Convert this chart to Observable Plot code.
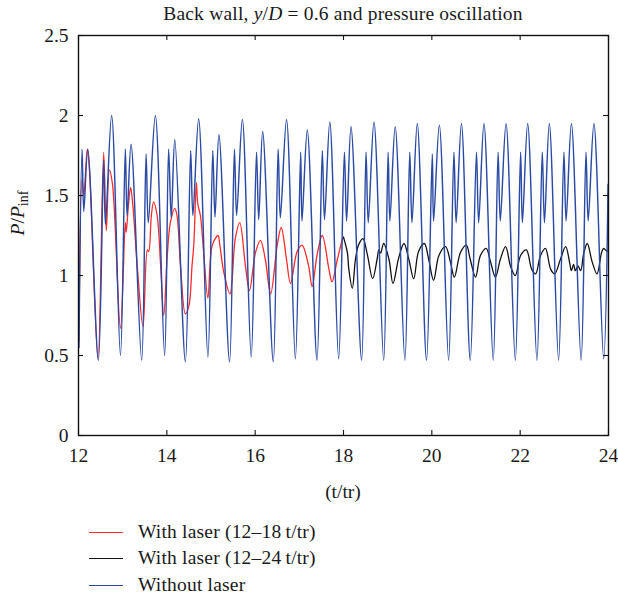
<!DOCTYPE html>
<html><head><meta charset="utf-8">
<script src="https://cdn.jsdelivr.net/npm/d3@7"></script>
<script src="https://cdn.jsdelivr.net/npm/@observablehq/plot@0.6"></script>
<style>
body{margin:0;background:#fff;font-family:"Liberation Serif","DejaVu Serif",serif;color:#1a1a1a;}
#wrap{position:relative;width:618px;height:599px;overflow:hidden;}
#chart{position:absolute;left:0;top:0;}
.lbl{position:absolute;font-size:19.5px;line-height:22px;white-space:nowrap;}
#title{left:78px;width:530px;top:3px;text-align:center;letter-spacing:0.2px;}
#xlabel{left:78px;width:530px;top:481px;text-align:center;}
#ylabel{left:21px;top:213px;transform:translate(-50%,-50%) rotate(-90deg);}
.leg{position:absolute;left:89px;font-size:19.5px;line-height:22px;white-space:nowrap;}
.leg span.sw{position:absolute;left:0;top:11px;width:34px;height:0;border-top:1.4px solid;}
.leg span.tx{position:absolute;left:49px;top:0;letter-spacing:0.2px;}
</style>
</head><body>
<div id="wrap">
<div id="chart"></div>
<div class="lbl" id="title">Back wall, <i>y</i>/<i>D</i> = 0.6 and pressure oscillation</div>
<div class="lbl" id="xlabel">(t/tr)</div>
<div class="lbl" id="ylabel"><i>P</i>/<i>P</i><sub style="font-size:14px">inf</sub></div>
<div id="legend"></div>
</div>
<script>
// ---- data ----
const xTicks = [12, 14, 16, 18, 20, 22, 24];
const yTicks = [0, 0.5, 1, 1.5, 2, 2.5];
const seriesNames = ["With laser (12\u201318\u2009t/tr)", "With laser (12\u201324\u2009t/tr)", "Without laser"];
const seriesColors = ["#ff2b2b", "#111111", "#2a4aa4"];

const blueT = [12.01,12.08,12.12,12.21,12.45,12.57,12.61,12.75,12.95,13.06,13.10,13.19,13.43,13.53,13.58,13.74,13.95,14.04,14.10,14.18,14.42,14.54,14.59,14.72,14.93,15.04,15.09,15.18,15.42,15.53,15.58,15.71,15.91,16.03,16.08,16.17,16.41,16.52,16.57,16.71,16.91,17.03,17.06,17.18,17.40,17.52,17.57,17.69,17.89,18.02,18.07,18.17,18.41,18.51,18.56,18.69,18.91,19.01,19.05,19.17,19.39,19.50,19.55,19.67,19.88,20.01,20.04,20.17,20.38,20.50,20.55,20.67,20.87,21.01,21.06,21.18,21.39,21.50,21.55,21.68,21.89,22.01,22.05,22.17,22.38,22.50,22.55,22.66,22.87,22.99,23.04,23.16,23.38,23.49,23.54,23.67,23.89,23.99];
const blueP = [0.55,1.79,1.40,1.79,0.47,1.72,1.32,2.00,0.50,1.79,1.375,1.82,0.47,1.76,1.33,2.00,0.50,1.79,1.36,1.85,0.46,1.78,1.375,1.98,0.49,1.78,1.365,1.88,0.46,1.79,1.375,1.975,0.49,1.77,1.35,1.90,0.46,1.79,1.36,1.975,0.48,1.77,1.34,1.91,0.47,1.78,1.35,1.96,0.48,1.77,1.34,1.93,0.47,1.77,1.33,1.96,0.47,1.77,1.34,1.93,0.47,1.77,1.33,1.95,0.47,1.76,1.34,1.94,0.47,1.77,1.33,1.95,0.47,1.77,1.33,1.95,0.47,1.77,1.34,1.95,0.47,1.77,1.33,1.95,0.47,1.77,1.33,1.95,0.47,1.77,1.34,1.95,0.47,1.77,1.34,1.95,0.48,1.57];

const redT = [12.01,12.08,12.12,12.20,12.25,12.44,12.57,12.63,12.70,12.77,12.95,13.06,13.08,13.13,13.18,13.23,13.33,13.46,13.56,13.59,13.65,13.70,13.78,13.86,13.93,14.01,14.08,14.18,14.23,14.31,14.42,14.50,14.57,14.61,14.67,14.70,14.76,14.84,14.93,15.03,15.16,15.20,15.29,15.43,15.55,15.65,15.78,15.87,16.01,16.12,16.23,16.35,16.50,16.59,16.71,16.80,16.95,17.06,17.21,17.29,17.40,17.52,17.67,17.74,17.86,17.97,18.00];
const redP = [0.59,1.60,1.50,1.79,1.65,0.48,1.77,1.28,1.66,1.57,0.67,1.33,1.27,1.44,1.55,1.44,1.06,0.68,1.16,1.15,1.375,1.46,1.375,1.06,0.75,1.125,1.33,1.42,1.375,1.06,0.76,0.81,1.06,1.19,1.58,1.45,1.375,1.12,0.86,1.19,1.25,1.19,1.02,0.885,1.23,1.33,1.06,0.906,1.146,1.22,1.10,0.885,1.19,1.30,1.10,0.95,1.15,1.19,1.06,0.93,1.125,1.25,1.04,0.96,1.10,1.22,1.24];

const blackT = [18.00,18.03,18.09,18.12,18.20,18.27,18.34,18.44,18.54,18.66,18.76,18.80,18.84,18.91,19.03,19.12,19.25,19.37,19.48,19.59,19.70,19.83,19.93,20.04,20.16,20.31,20.42,20.51,20.65,20.78,20.87,20.99,21.10,21.23,21.33,21.44,21.55,21.67,21.78,21.89,22.01,22.14,22.26,22.35,22.46,22.57,22.69,22.78,22.91,23.03,23.12,23.16,23.21,23.25,23.31,23.37,23.44,23.52,23.63,23.74,23.84,23.89,23.93,23.99];
const blackP = [1.24,1.21,1.14,1.04,0.92,1.10,1.19,1.23,1.13,0.98,1.10,1.16,1.14,1.20,1.10,0.95,1.11,1.20,1.10,0.98,1.15,1.20,1.10,0.97,1.125,1.18,1.085,0.99,1.145,1.19,1.10,0.99,1.125,1.17,1.085,0.99,1.10,1.18,1.06,1.00,1.125,1.16,1.04,1.01,1.125,1.17,1.04,1.01,1.10,1.18,1.08,1.03,1.07,1.03,1.06,1.03,1.14,1.20,1.085,1.01,1.14,1.17,1.16,1.15];

const toRows = (T, P) => T.map((t, i) => ({t, p: P[i]}));
const red = toRows(redT, redP), black = toRows(blackT, blackP), blue = toRows(blueT, blueP);

const plotH = 510, mTop = 35, mBottom = 75, mLeft = 78, mRight = 10, W = 618;
const innerH = plotH - mTop - mBottom, innerW = W - mLeft - mRight, tk = 5;

const chart = Plot.plot({
  width: W, height: plotH,
  marginTop: mTop, marginBottom: mBottom, marginLeft: mLeft, marginRight: mRight,
  style: {fontFamily: "Liberation Serif, DejaVu Serif, serif", fontSize: "19.5px", color: "#1a1a1a", background: "transparent"},
  x: {domain: [12, 24], ticks: xTicks, label: null},
  y: {domain: [0, 2.5], ticks: yTicks, label: null},
  marks: [
    Plot.line(red, {x: "t", y: "p", stroke: seriesColors[0], strokeWidth: 1.3, curve: "catmull-rom"}),
    Plot.line(black, {x: "t", y: "p", stroke: seriesColors[1], strokeWidth: 1.3, curve: "catmull-rom"}),
    Plot.line(blue, {x: "t", y: "p", stroke: seriesColors[2], strokeWidth: 1.45, curve: "catmull-rom"}),
    Plot.gridX(xTicks, {stroke: "#111", strokeOpacity: 1, strokeWidth: 1.1, insetTop: innerH - tk}),
    Plot.gridX(xTicks, {stroke: "#111", strokeOpacity: 1, strokeWidth: 1.1, insetBottom: innerH - tk}),
    Plot.gridY(yTicks, {stroke: "#111", strokeOpacity: 1, strokeWidth: 1.1, insetRight: innerW - tk}),
    Plot.gridY(yTicks, {stroke: "#111", strokeOpacity: 1, strokeWidth: 1.1, insetLeft: innerW - tk}),
    Plot.axisX({ticks: xTicks, tickSize: 0, tickPadding: 13, label: null, tickFormat: d => String(d)}),
    Plot.axisY({ticks: yTicks, tickSize: 0, tickPadding: 10, label: null, tickFormat: d => String(d)}),
    Plot.frame({stroke: "#111", strokeWidth: 1.4})
  ]
});
document.getElementById("chart").appendChild(chart);

// legend below the chart
const legTops = [521, 547, 574];
const leg = document.getElementById("legend");
seriesNames.forEach((name, i) => {
  const d = document.createElement("div");
  d.className = "leg";
  d.style.top = legTops[i] + "px";
  d.innerHTML = `<span class="sw" style="border-color:${seriesColors[i]}"></span><span class="tx">${name}</span>`;
  leg.appendChild(d);
});
</script>
</body></html>
